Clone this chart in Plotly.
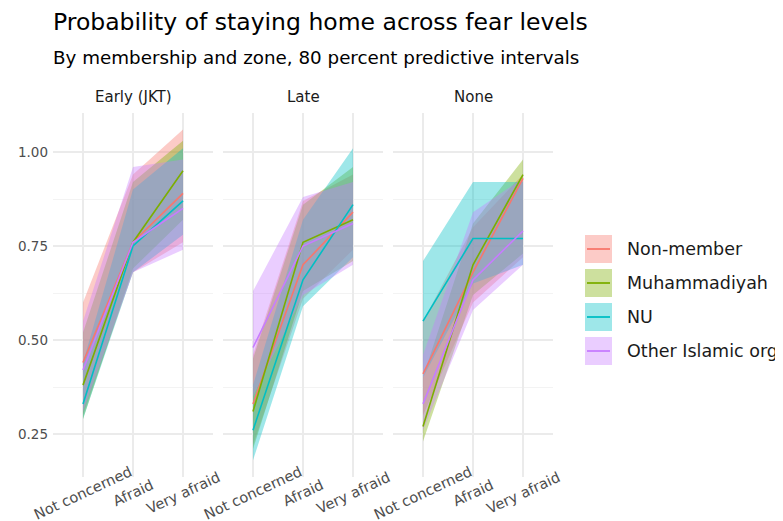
import plotly.graph_objects as go

# the page body adds an 8px offset, so the figure is drawn 8px smaller
OFF = 8
W, H = 783 - OFF, 521 - OFF

fear_levels = ["Not concerned", "Afraid", "Very afraid"]
zones = ["Early (JKT)", "Late", "None"]
groups = ["Non-member", "Muhammadiyah", "NU", "Other Islamic org"]
group_colors = ["#F8766D", "#7CAE00", "#00BFC4", "#C77CFF"]

y_tick_vals = [0.25, 0.50, 0.75, 1.00]
y_tick_text = ["0.25", "0.50", "0.75", "1.00"]

# Early (JKT)
early_mean = {
    "Non-member": [0.44, 0.76, 0.89],
    "Muhammadiyah": [0.38, 0.76, 0.95],
    "NU": [0.33, 0.75, 0.87],
    "Other Islamic org": [0.42, 0.76, 0.85],
}
early_lower = {
    "Non-member": [0.30, 0.68, 0.76],
    "Muhammadiyah": [0.29, 0.69, 0.82],
    "NU": [0.29, 0.68, 0.78],
    "Other Islamic org": [0.31, 0.68, 0.74],
}
early_upper = {
    "Non-member": [0.60, 0.94, 1.06],
    "Muhammadiyah": [0.52, 0.92, 1.03],
    "NU": [0.44, 0.90, 1.01],
    "Other Islamic org": [0.55, 0.96, 0.98],
}

# Late
late_mean = {
    "Non-member": [0.33, 0.70, 0.84],
    "Muhammadiyah": [0.31, 0.76, 0.82],
    "NU": [0.26, 0.66, 0.86],
    "Other Islamic org": [0.48, 0.75, 0.81],
}
late_lower = {
    "Non-member": [0.22, 0.61, 0.74],
    "Muhammadiyah": [0.21, 0.63, 0.71],
    "NU": [0.18, 0.59, 0.72],
    "Other Islamic org": [0.35, 0.62, 0.70],
}
late_upper = {
    "Non-member": [0.46, 0.87, 0.94],
    "Muhammadiyah": [0.45, 0.86, 0.96],
    "NU": [0.38, 0.82, 1.01],
    "Other Islamic org": [0.63, 0.88, 0.92],
}

# None
none_mean = {
    "Non-member": [0.41, 0.68, 0.93],
    "Muhammadiyah": [0.27, 0.70, 0.94],
    "NU": [0.55, 0.77, 0.77],
    "Other Islamic org": [0.33, 0.66, 0.79],
}
none_lower = {
    "Non-member": [0.30, 0.60, 0.72],
    "Muhammadiyah": [0.23, 0.62, 0.73],
    "NU": [0.40, 0.65, 0.70],
    "Other Islamic org": [0.26, 0.58, 0.70],
}
none_upper = {
    "Non-member": [0.55, 0.80, 0.94],
    "Muhammadiyah": [0.40, 0.81, 0.98],
    "NU": [0.71, 0.92, 0.92],
    "Other Islamic org": [0.46, 0.84, 0.93],
}

zone_data = {
    "Early (JKT)": (early_mean, early_lower, early_upper),
    "Late": (late_mean, late_lower, late_upper),
    "None": (none_mean, none_lower, none_upper),
}

FONT = "DejaVu Sans, sans-serif"
ALPHA = 0.38


def rgba(hexc, a):
    h = hexc.lstrip("#")
    r, g, b = int(h[0:2], 16), int(h[2:4], 16), int(h[4:6], 16)
    return f"rgba({r},{g},{b},{a})"


def px_x(p):
    return (p - OFF) / W


def px_y(p):
    return 1 - (p - OFF) / H


fig = go.Figure()

panel_left = [53, 223, 393]
panel_w = 160
panel_top, panel_bottom = 113, 477

for zi, zone in enumerate(zones):
    mean_d, low_d, up_d = zone_data[zone]
    xa = "x" if zi == 0 else f"x{zi + 1}"
    ya = "y" if zi == 0 else f"y{zi + 1}"
    for g, c in zip(groups, group_colors):
        fig.add_trace(go.Scatter(
            x=fear_levels + fear_levels[::-1],
            y=up_d[g] + low_d[g][::-1],
            fill="toself", fillcolor=rgba(c, ALPHA),
            line=dict(width=0), mode="lines",
            hoverinfo="skip", showlegend=False,
            xaxis=xa, yaxis=ya,
        ))
    for g, c in zip(groups, group_colors):
        fig.add_trace(go.Scatter(
            x=fear_levels, y=mean_d[g], mode="lines",
            line=dict(color=c, width=1.6),
            name=g, showlegend=False,
            xaxis=xa, yaxis=ya,
        ))

y_range = [1 - (panel_bottom - 152) / 376.0, 1 + (152 - panel_top) / 376.0]

annotations = []
layout_axes = {}
for zi in range(3):
    xname = "xaxis" if zi == 0 else f"xaxis{zi + 1}"
    yname = "yaxis" if zi == 0 else f"yaxis{zi + 1}"
    xref = "x" if zi == 0 else f"x{zi + 1}"
    x0 = px_x(panel_left[zi])
    x1 = px_x(panel_left[zi] + panel_w)
    layout_axes[xname] = dict(
        domain=[x0, x1], anchor="y" if zi == 0 else f"y{zi + 1}",
        type="category", categoryorder="array", categoryarray=fear_levels,
        range=[-0.6, 2.6], showgrid=True, gridcolor="#EBEBEB", gridwidth=1.6,
        zeroline=False, showline=False, ticks="", showticklabels=False,
        automargin=False, fixedrange=True,
    )
    layout_axes[yname] = dict(
        domain=[px_y(panel_bottom), px_y(panel_top)],
        anchor="x" if zi == 0 else f"x{zi + 1}",
        range=y_range, tickvals=y_tick_vals, ticktext=y_tick_text,
        showticklabels=(zi == 0), showgrid=True, gridcolor="#EBEBEB",
        gridwidth=1.6, zeroline=False, showline=False, ticks="",
        minor=dict(tickvals=[0.375, 0.625, 0.875], showgrid=True,
                   gridcolor="#F3F3F3", gridwidth=0.8),
        tickfont=dict(family=FONT, size=13.5, color="#4D4D4D"),
        automargin=False, fixedrange=True, ticklabelstandoff=4,
    )
    # centred, rotated category labels (ggplot angle=25, hjust=0.5)
    for lvl in fear_levels:
        annotations.append(dict(
            text=lvl, x=lvl, xref=xref, y=px_y(493), yref="paper",
            xanchor="center", yanchor="middle", textangle=-25,
            showarrow=False, font=dict(family=FONT, size=14.5, color="#4D4D4D")))

annotations += [
    dict(text="Probability of staying home across fear levels",
         x=px_x(51), y=px_y(22), xref="paper", yref="paper",
         xanchor="left", yanchor="middle", showarrow=False,
         font=dict(family=FONT, size=23.5, color="#000000")),
    dict(text="By membership and zone, 80 percent predictive intervals",
         x=px_x(51), y=px_y(57), xref="paper", yref="paper",
         xanchor="left", yanchor="middle", showarrow=False,
         font=dict(family=FONT, size=18.3, color="#000000")),
]
for zi, zone in enumerate(zones):
    annotations.append(dict(
        text=zone, x=px_x(panel_left[zi] + panel_w / 2), y=px_y(97),
        xref="paper", yref="paper", xanchor="center", yanchor="middle",
        showarrow=False, font=dict(family=FONT, size=15, color="#1A1A1A")))

shapes = []
leg_centers = [249, 283, 317, 351]
for g, c, cy in zip(groups, group_colors, leg_centers):
    shapes.append(dict(type="rect", xref="paper", yref="paper",
                       x0=px_x(585), x1=px_x(612), y0=px_y(cy + 14), y1=px_y(cy - 14),
                       fillcolor=rgba(c, ALPHA), line=dict(width=0)))
    shapes.append(dict(type="line", xref="paper", yref="paper",
                       x0=px_x(587), x1=px_x(610), y0=px_y(cy), y1=px_y(cy),
                       line=dict(color=c, width=1.8)))
    annotations.append(dict(text=g, x=px_x(625), y=px_y(cy), xref="paper", yref="paper",
                            xanchor="left", yanchor="middle", showarrow=False,
                            font=dict(family=FONT, size=17.5, color="#1A1A1A")))

fig.update_layout(
    width=W, height=H,
    margin=dict(l=0, r=0, t=0, b=0, autoexpand=False),
    paper_bgcolor="white", plot_bgcolor="white",
    showlegend=False,
    annotations=annotations, shapes=shapes,
    **layout_axes,
)

fig.write_html("out.html")
